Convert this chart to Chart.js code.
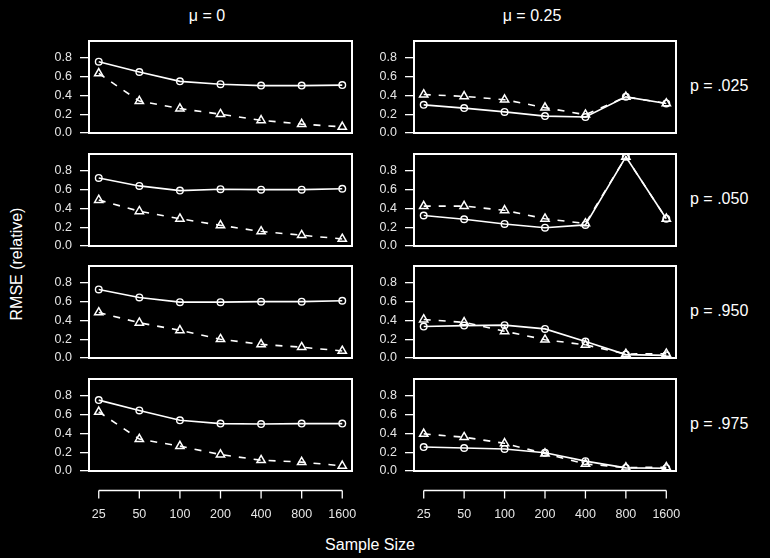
<!DOCTYPE html>
<html>
<head>
<meta charset="utf-8">
<script src="https://cdn.jsdelivr.net/npm/chart.js@4.4.1/dist/chart.umd.min.js"></script>
<style>
  html, body { margin: 0; padding: 0; background: #000; }
  #wrap { position: relative; width: 770px; height: 558px; background: #000; overflow: hidden; font-family: "Liberation Sans", Arial, sans-serif; color: #fff; }
  #wrap canvas { position: absolute; }
  .lbl { position: absolute; white-space: nowrap; color: #fff; }
</style>
</head>
<body>
<div id="wrap">
  <div class="lbl" style="left:207px; top:7px; font-size:16px; transform:translateX(-50%);">&mu; = 0</div>
  <div class="lbl" style="left:532px; top:7px; font-size:16px; transform:translateX(-50%);">&mu; = 0.25</div>
  <div class="lbl" style="left:370px; top:536px; font-size:16px; transform:translateX(-50%);">Sample Size</div>
  <div class="lbl" style="left:17px; top:264px; font-size:16px; transform:translate(-50%,-50%) rotate(-90deg);">RMSE (relative)</div>
</div>
<script>
// sample sizes along x
var sampleSizes = ['25', '50', '100', '200', '400', '800', '1600'];
var pLabels = ['p = .025', 'p = .050', 'p = .950', 'p = .975'];
var yTicks = [0, 0.2, 0.4, 0.6, 0.8];

// mu = 0 : circles (solid) and triangles (dashed)
var mu0_p025_circ = [0.76, 0.65, 0.55, 0.52, 0.505, 0.505, 0.51];
var mu0_p025_tri  = [0.635, 0.34, 0.26, 0.20, 0.135, 0.095, 0.065];
var mu0_p050_circ = [0.725, 0.64, 0.59, 0.605, 0.60, 0.60, 0.61];
var mu0_p050_tri  = [0.49, 0.37, 0.29, 0.22, 0.155, 0.115, 0.075];
var mu0_p950_circ = [0.73, 0.645, 0.595, 0.595, 0.60, 0.60, 0.61];
var mu0_p950_tri  = [0.485, 0.375, 0.295, 0.20, 0.145, 0.115, 0.075];
var mu0_p975_circ = [0.755, 0.645, 0.54, 0.505, 0.50, 0.505, 0.505];
var mu0_p975_tri  = [0.63, 0.34, 0.265, 0.175, 0.115, 0.095, 0.055];

// mu = 0.25
var mu25_p025_circ = [0.30, 0.265, 0.225, 0.18, 0.17, 0.385, 0.315];
var mu25_p025_tri  = [0.41, 0.39, 0.355, 0.27, 0.195, 0.385, 0.315];
var mu25_p050_circ = [0.325, 0.285, 0.235, 0.195, 0.225, 0.95, 0.29];
var mu25_p050_tri  = [0.425, 0.425, 0.38, 0.29, 0.24, 0.95, 0.29];
var mu25_p950_circ = [0.335, 0.345, 0.35, 0.31, 0.175, 0.036, 0.028];
var mu25_p950_tri  = [0.41, 0.38, 0.285, 0.195, 0.14, 0.043, 0.045];
var mu25_p975_circ = [0.255, 0.245, 0.235, 0.195, 0.105, 0.033, 0.03];
var mu25_p975_tri  = [0.395, 0.36, 0.295, 0.185, 0.075, 0.037, 0.04];

var panels = [
  [mu0_p025_circ, mu0_p025_tri, mu25_p025_circ, mu25_p025_tri],
  [mu0_p050_circ, mu0_p050_tri, mu25_p050_circ, mu25_p050_tri],
  [mu0_p950_circ, mu0_p950_tri, mu25_p950_circ, mu25_p950_tri],
  [mu0_p975_circ, mu0_p975_tri, mu25_p975_circ, mu25_p975_tri]
];

Chart.defaults.font.family = '"Liberation Sans", Arial, sans-serif';
Chart.defaults.color = '#e6e6e6';

var wrap = document.getElementById('wrap');
var boxLefts = [89, 414];
var boxWidths = [263, 262];
var boxTops = [41, 153.5, 265.5, 378.5];
var boxH = 92;
var yAxisW = 49;

// frame around each panel + the detached x axis of the bottom row
var frame = {
  id: 'frame',
  afterDraw: function(chart){
    var a = chart.chartArea, c = chart.ctx;
    c.save();
    c.strokeStyle = '#fff';
    c.lineWidth = 2;
    c.strokeRect(a.left, a.top, a.right - a.left, a.bottom - a.top);
    if (chart.options.plugins.frame.bottomAxis) {
      var xs = chart.scales.x;
      var y0 = a.bottom + 19.5;
      c.lineWidth = 1.3;
      c.beginPath();
      c.moveTo(xs.getPixelForValue(0), y0);
      c.lineTo(xs.getPixelForValue(sampleSizes.length - 1), y0);
      c.stroke();
      c.fillStyle = '#e6e6e6';
      c.font = '12.5px "Liberation Sans", Arial, sans-serif';
      c.textAlign = 'center';
      c.textBaseline = 'middle';
      for (var i = 0; i < sampleSizes.length; i++) {
        var px = xs.getPixelForValue(i);
        c.beginPath();
        c.moveTo(px, y0);
        c.lineTo(px, y0 + 8);
        c.stroke();
        c.fillText(sampleSizes[i], px, y0 + 24);
      }
    }
    c.restore();
  }
};

function pts(arr){
  return arr.map(function(v, i){ return {x: i, y: v}; });
}

for (var r = 0; r < 4; r++) {
  for (var col = 0; col < 2; col++) {
    var bottom = (r === 3);
    var padB = bottom ? 60 : 10;
    var cv = document.createElement('canvas');
    var w = boxWidths[col] + yAxisW + 10;
    var h = boxH + 10 + padB;
    cv.width = w; cv.height = h;
    cv.style.left = (boxLefts[col] - yAxisW) + 'px';
    cv.style.top = (boxTops[r] - 10) + 'px';
    cv.style.width = w + 'px'; cv.style.height = h + 'px';
    wrap.appendChild(cv);

    var circ = panels[r][col * 2], tri = panels[r][col * 2 + 1];
    new Chart(cv, {
      type: 'line',
      data: {
        datasets: [{
          label: 'circles',
          data: pts(circ),
          borderColor: '#fff',
          borderWidth: 1.6,
          pointStyle: 'circle',
          pointRadius: 3.3,
          pointBorderWidth: 1.4,
          pointBorderColor: '#fff',
          pointBackgroundColor: 'rgba(0,0,0,0)'
        }, {
          label: 'triangles',
          data: pts(tri),
          borderColor: '#fff',
          borderWidth: 1.6,
          borderDash: [7, 8],
          pointStyle: 'triangle',
          pointRadius: 4.8,
          pointBorderWidth: 1.5,
          pointBorderColor: '#fff',
          pointBackgroundColor: 'rgba(0,0,0,0)'
        }]
      },
      options: {
        responsive: false,
        animation: false,
        devicePixelRatio: 1,
        layout: { autoPadding: false, padding: { top: 10, right: 10, bottom: padB, left: 0 } },
        plugins: {
          legend: { display: false },
          tooltip: { enabled: false },
          frame: { bottomAxis: bottom }
        },
        scales: {
          x: { type: 'linear', min: -0.24, max: 6.24, display: false },
          y: {
            type: 'linear', min: 0, max: 0.98,
            afterBuildTicks: function(s){ s.ticks = yTicks.map(function(v){ return {value: v}; }); },
            afterFit: function(s){ s.width = yAxisW; s.paddingTop = 0; s.paddingBottom = 0; },
            grid: { drawOnChartArea: false, drawTicks: true, tickLength: 9, color: '#fff', lineWidth: 1.3 },
            border: { display: true, color: '#fff', width: 1.3 },
            ticks: {
              padding: 8,
              font: { size: 12.5 },
              color: '#e6e6e6',
              callback: function(v){ return Number(v).toFixed(1); }
            }
          }
        }
      },
      plugins: [frame]
    });
  }
  var pl = document.createElement('div');
  pl.className = 'lbl';
  pl.style.left = '690px';
  pl.style.top = (boxTops[r] + boxH / 2 - 10) + 'px';
  pl.style.fontSize = '16px';
  pl.textContent = pLabels[r];
  wrap.appendChild(pl);
}
</script>
</body>
</html>
